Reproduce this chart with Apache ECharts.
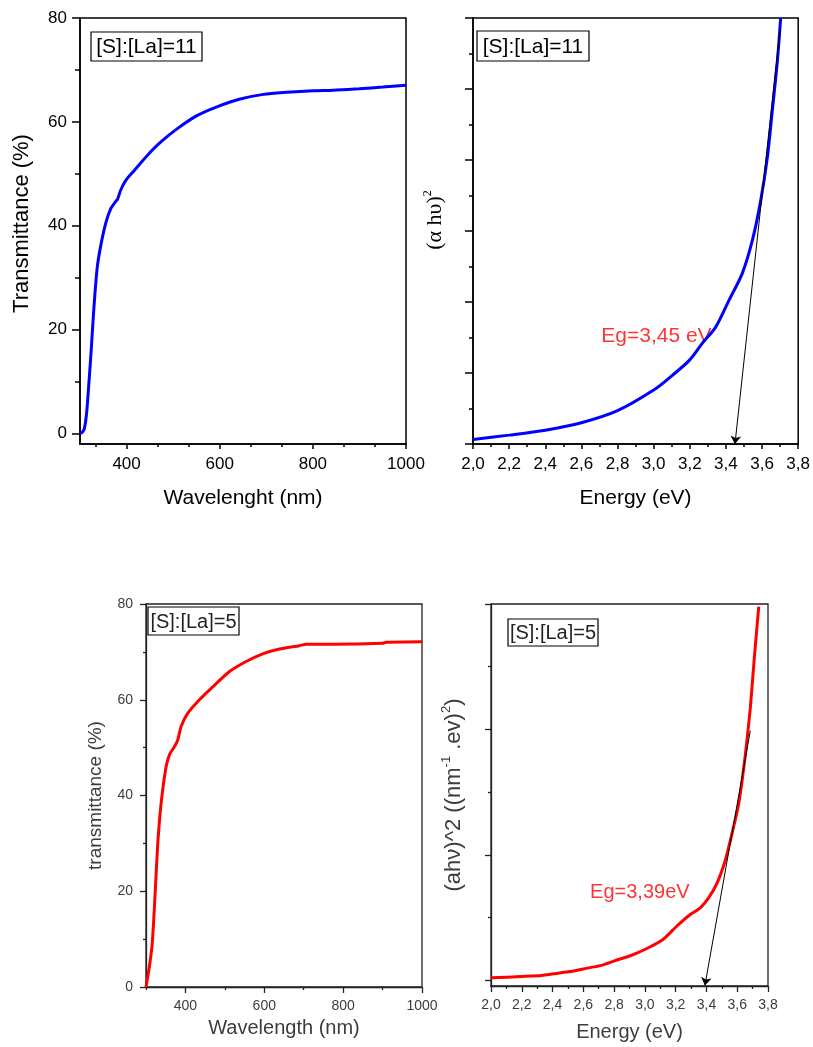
<!DOCTYPE html>
<html>
<head>
<meta charset="utf-8">
<script src="https://cdn.jsdelivr.net/npm/echarts@6/dist/echarts.min.js"></script>
<style>
  html, body { margin: 0; padding: 0; background: #fff; }
  #top { position: absolute; left: 0; top: 0; width: 813px; height: 540px; }
  #bottom { position: absolute; left: 0; top: 540px; width: 813px; height: 507px; filter: blur(0.4px); }
</style>
</head>
<body>
<div id="top"></div>
<div id="bottom"></div>
<script>
// ---- [S]:[La]=11 : transmittance spectrum ----
const wl11 = [301, 305, 309, 314, 319, 324, 330, 337, 344, 355, 366, 376, 381, 387, 398, 416, 444, 473, 509, 551, 594, 644, 694, 744, 801, 843, 900, 950, 1000];
const tr11 = [0, 0.3, 0.8, 3.8, 9.6, 16, 24.4, 32, 35.9, 40.4, 43.3, 44.6, 45.2, 46.8, 48.7, 50.6, 53.5, 56.1, 58.7, 61.2, 62.9, 64.4, 65.3, 65.7, 66.0, 66.1, 66.4, 66.7, 67.05];

// ---- [S]:[La]=11 : Tauc plot ----
const en11 = [2.0, 2.2, 2.4, 2.6, 2.8, 3.0, 3.1, 3.2, 3.27, 3.344, 3.418, 3.49, 3.547, 3.593, 3.63, 3.657, 3.685, 3.703];
const ah11 = [0.13, 0.25, 0.39, 0.6, 0.94, 1.52, 1.92, 2.37, 2.84, 3.3, 4.06, 4.8, 5.75, 6.87, 8.1, 9.4, 10.8, 12];
const eg11 = 3.45;
const tan11X = [3.70, eg11];
const tan11Y = [11.7, 0];

// ---- [S]:[La]=5 : transmittance spectrum ----
const wl5 = [300, 308.6, 315.5, 319.6, 323.9, 329.8, 335.8, 342.4, 351, 359.4, 372, 380.5, 389, 405.9, 435.5, 469.3, 511.7, 554, 596, 638.6, 689, 706, 772, 900.8, 909, 1000];
const tr5 = [0, 4.3, 8.8, 14, 20.7, 30, 36.3, 41.2, 46, 48.5, 50.2, 51.6, 54.4, 57.2, 60, 62.7, 65.9, 68, 69.6, 70.6, 71.3, 71.6, 71.6, 71.8, 72, 72.1];

// ---- [S]:[La]=5 : Tauc plot ----
const en5 = [2.0, 2.2, 2.33, 2.406, 2.514, 2.6, 2.709, 2.807, 2.905, 3.013, 3.12, 3.208, 3.295, 3.36, 3.414, 3.469, 3.523, 3.566, 3.61, 3.653, 3.685, 3.711, 3.74];
const ah5 = [0.021, 0.032, 0.04, 0.053, 0.071, 0.092, 0.118, 0.158, 0.197, 0.255, 0.329, 0.434, 0.526, 0.579, 0.658, 0.776, 0.96, 1.17, 1.41, 1.8, 2.17, 2.57, 2.98];
const eg5 = 3.39;
const tan5X = [3.685, eg5];
const tan5Y = [1.99, -0.04];

// ---- tick positions ----
const wlMajor = [400, 600, 800, 1000];
const wlMinorTop = [333.33, 466.67, 533.33, 666.67, 733.33, 866.67, 933.33];
const wlMinorBottom = [300, 500, 700, 900];
const trMajor = [0, 20, 40, 60, 80];
const trMinor = [10, 30, 50, 70];
const enMajor = [2.0, 2.2, 2.4, 2.6, 2.8, 3.0, 3.2, 3.4, 3.6, 3.8];
const enMinor = [2.1, 2.3, 2.5, 2.7, 2.9, 3.1, 3.3, 3.5, 3.7];
const tauc11Major = [0, 2, 4, 6, 8, 10, 12];
const tauc11Minor = [1, 3, 5, 7, 9, 11];
const tauc5Major = [0, 1, 2, 3];
const tauc5Minor = [0.5, 1.5, 2.5];

const SANS = '"Liberation Sans", Arial, sans-serif';
const SERIF = '"Liberation Serif", "Times New Roman", serif';
const grey = '#3c3c3c';

const commaFmt = v => v.toFixed(1).replace('.', ',');
const egText = v => String(v).replace('.', ',');
const zip = (xs, ys) => xs.map((x, i) => [x, ys[i]]);

// Main axis (line, major ticks, labels, name) plus an overlaid axis carrying only the minor ticks.
function axisPair(gi, pos, o) {
  const main = {
    type: 'value', gridIndex: gi, position: pos, min: o.min, max: o.max,
    axisLine: { show: true, onZero: false, lineStyle: { color: o.color, width: o.lw } },
    axisTick: { show: true, customValues: o.major, length: o.majLen, lineStyle: { color: o.color, width: o.lw } },
    axisLabel: {
      show: o.labels !== false, customValues: o.major, margin: o.margin,
      fontSize: o.fs, fontFamily: SANS, color: o.textColor, formatter: o.fmt
    },
    splitLine: { show: false },
    name: o.name, nameLocation: 'middle', nameGap: o.nameGap,
    nameTextStyle: o.nameStyle
  };
  const minor = {
    type: 'value', gridIndex: gi, position: pos, min: o.min, max: o.max,
    axisLine: { show: false, onZero: false },
    axisTick: { show: true, customValues: o.minor, length: o.minLen, lineStyle: { color: o.color, width: o.lw } },
    axisLabel: { show: false },
    splitLine: { show: false }
  };
  return [main, minor];
}

function grid(left, top, width, height, color, lw) {
  return { left, top, width, height, show: true, borderColor: color, borderWidth: lw,
           backgroundColor: 'transparent', containLabel: false };
}

function curve(gi, xs, ys, color, smooth) {
  return {
    type: 'line', xAxisIndex: gi * 2, yAxisIndex: gi * 2,
    data: zip(xs, ys), showSymbol: false, symbol: 'none',
    smooth: smooth, clip: true,
    lineStyle: { color: color, width: 3 }, silent: true
  };
}

function tangent(xs, ys) {
  return {
    silent: true, animation: false,
    symbol: ['none', 'arrow'], symbolSize: 8,
    label: { show: false },
    lineStyle: { color: '#000', width: 1, type: 'solid' },
    itemStyle: { color: '#000' },
    emphasis: { disabled: true },
    data: [[{ coord: [xs[0], ys[0]] }, { coord: [xs[1], ys[1]] }]]
  };
}

function egLabel(gi, pos, text, fs) {
  return {
    type: 'scatter', xAxisIndex: gi * 2, yAxisIndex: gi * 2,
    data: [pos], symbolSize: 0, silent: true,
    label: {
      show: true, position: 'right', distance: 0, formatter: text,
      fontSize: fs, fontFamily: SANS, color: '#ff0000'
    }
  };
}

function boxLabel(x, y, w, h, text, fs, color) {
  return {
    type: 'group', silent: true,
    children: [
      { type: 'rect', shape: { x: x, y: y, width: w, height: h },
        style: { fill: '#fff', stroke: '#000', lineWidth: 1.2 } },
      { type: 'text', x: x + w / 2, y: y + h / 2 + 1,
        style: { text: text, font: fs + 'px ' + SANS, fill: color, align: 'center', verticalAlign: 'middle' } }
    ]
  };
}

// ---------- upper row: [S]:[La]=11 ----------
const blackName = { fontSize: 21, fontFamily: SANS, color: '#000' };
const s11 = curve(1, en11, ah11, '#0000ff', 0.3);
s11.markLine = tangent(tan11X, tan11Y);

const topOption = {
  animation: false,
  backgroundColor: '#fff',
  grid: [grid(80, 18, 326, 426, '#000', 1.5), grid(473, 18, 326, 426, '#000', 1.5)],
  xAxis: [].concat(
    axisPair(0, 'bottom', {
      min: 300, max: 1000, major: wlMajor, minor: wlMinorTop, majLen: 5, minLen: 3,
      color: '#000', lw: 1.5, margin: 12, fs: 17, textColor: '#000', fmt: v => String(v),
      name: 'Wavelenght (nm)', nameGap: 44, nameStyle: blackName
    }),
    axisPair(1, 'bottom', {
      min: 2.0, max: 3.8, major: enMajor, minor: enMinor, majLen: 5, minLen: 3,
      color: '#000', lw: 1.5, margin: 12, fs: 17, textColor: '#000', fmt: commaFmt,
      name: 'Energy (eV)', nameGap: 44, nameStyle: blackName
    })
  ),
  yAxis: [].concat(
    axisPair(0, 'left', {
      min: -2, max: 80, major: trMajor, minor: trMinor, majLen: 8, minLen: 5,
      color: '#000', lw: 1.5, margin: 13, fs: 17, textColor: '#000', fmt: v => String(v),
      name: 'Transmittance (%)', nameGap: 47,
      nameStyle: { fontSize: 22, fontFamily: SANS, color: '#000', padding: [0, 0, 0, 15] }
    }),
    axisPair(1, 'left', {
      min: 0, max: 12, major: tauc11Major, minor: tauc11Minor, majLen: 8, minLen: 4,
      color: '#000', lw: 1.5, margin: 13, fs: 17, textColor: '#000', labels: false,
      name: '{a|(α hυ)}{s|2}', nameGap: 25,
      nameStyle: {
        color: '#000', padding: [0, 0, 0, 22],
        rich: {
          a: { fontSize: 22, fontFamily: SERIF, color: '#000', lineHeight: 26 },
          s: { fontSize: 12, fontFamily: SERIF, color: '#000', verticalAlign: 'top', lineHeight: 26 }
        }
      }
    })
  ),
  series: [
    curve(0, wl11, tr11, '#0000ff', 0.3),
    s11,
    egLabel(1, [2.71, 3.04], 'Eg=' + egText(eg11) + ' eV', 21)
  ],
  graphic: [
    boxLabel(91, 32, 111, 29, '[S]:[La]=11', 21, '#000'),
    boxLabel(477, 31, 112, 30, '[S]:[La]=11', 21, '#000')
  ]
};

// ---------- lower row: [S]:[La]=5 ----------
const greyName = { fontSize: 20, fontFamily: SANS, color: grey };
const s5 = curve(1, en5, ah5, '#ff0000', 0.2);
s5.markLine = tangent(tan5X, tan5Y);

const bottomOption = {
  animation: false,
  backgroundColor: '#fff',
  grid: [grid(146, 64, 276, 383, '#222', 1.3), grid(491, 64, 277, 383, '#222', 1.3)],
  xAxis: [].concat(
    axisPair(0, 'bottom', {
      min: 300, max: 1000, major: wlMajor, minor: wlMinorBottom, majLen: 6, minLen: 3,
      color: '#222', lw: 1.3, margin: 12, fs: 14, textColor: grey, fmt: v => String(v),
      name: 'Wavelength (nm)', nameGap: 31, nameStyle: greyName
    }),
    axisPair(1, 'bottom', {
      min: 2.0, max: 3.8, major: enMajor, minor: enMinor, majLen: 6, minLen: 3,
      color: '#222', lw: 1.3, margin: 12, fs: 14, textColor: grey, fmt: commaFmt,
      name: 'Energy (eV)', nameGap: 36, nameStyle: greyName
    })
  ),
  yAxis: [].concat(
    axisPair(0, 'left', {
      min: 0, max: 80, major: trMajor, minor: trMinor, majLen: 6, minLen: 3,
      color: '#222', lw: 1.3, margin: 13, fs: 14, textColor: grey, fmt: v => String(v),
      name: 'transmittance (%)', nameGap: 41, nameStyle: { fontSize: 19, fontFamily: SANS, color: grey }
    }),
    axisPair(1, 'left', {
      min: -0.044, max: 3, major: tauc5Major, minor: tauc5Minor, majLen: 6, minLen: 3,
      color: '#222', lw: 1.3, margin: 13, fs: 14, textColor: grey, labels: false,
      name: '{a|(ahν)^2 ((nm}{s|-1}{a| .ev)}{s|2}{a|)}', nameGap: 24,
      nameStyle: {
        color: grey, padding: [0, 0, 0, 0],
        rich: {
          a: { fontSize: 22, fontFamily: SANS, color: grey, lineHeight: 27 },
          s: { fontSize: 13, fontFamily: SANS, color: grey, verticalAlign: 'top', lineHeight: 27 }
        }
      }
    })
  ),
  series: [
    curve(0, wl5, tr5, '#ff0000', 0.2),
    s5,
    egLabel(1, [2.644, 0.70], 'Eg=' + egText(eg5) + 'eV', 20)
  ],
  graphic: [
    boxLabel(148, 67, 91, 28, '[S]:[La]=5', 20, '#222'),
    boxLabel(508, 79, 90, 27, '[S]:[La]=5', 20, '#222')
  ]
};

echarts.init(document.getElementById('top'), null, { renderer: 'canvas' }).setOption(topOption);
echarts.init(document.getElementById('bottom'), null, { renderer: 'canvas' }).setOption(bottomOption);
</script>
</body>
</html>
